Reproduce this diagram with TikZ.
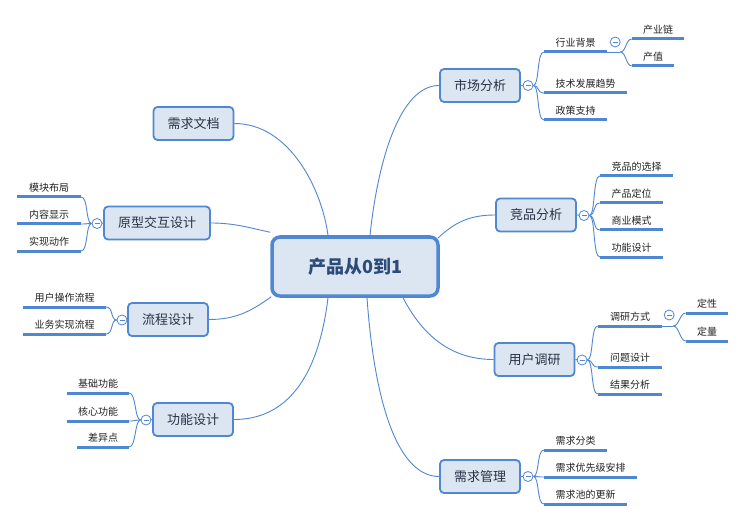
\documentclass[tikz,border=0pt]{standalone}
\usepackage{fontspec}
\setmainfont{Noto Sans CJK SC}
\usetikzlibrary{backgrounds,calc}
\definecolor{mblue}{RGB}{80,135,210}
\definecolor{mfill}{RGB}{220,230,242}
\definecolor{roottext}{RGB}{45,75,120}
\definecolor{ntext}{RGB}{40,50,70}
\definecolor{ltext}{RGB}{35,35,35}
\begin{document}
\begin{tikzpicture}[x=1pt,y=-1pt,
 rootbox/.style={draw=mblue,line width=3.5pt,fill=mfill,rounded corners=8pt,minimum width=166pt,minimum height=59pt,inner sep=0pt,font=\fontsize{18}{20}\selectfont\bfseries,text=roottext},
 branchbox/.style={draw=mblue,line width=1.8pt,fill=mfill,rounded corners=4pt,minimum width=80pt,minimum height=33pt,inner sep=0pt,font=\fontsize{13}{15}\selectfont,text=ntext},
 leaf/.style={anchor=south,inner xsep=0pt,inner ysep=4.5pt,font=\fontsize{10}{12}\selectfont,text=ltext},
 uline/.style={draw=mblue,line width=3pt},
 conn/.style={draw=mblue,line width=0.9pt},
 fold/.style={circle,draw=mblue,fill=white,line width=0.8pt,minimum size=10pt,inner sep=0pt,
   path picture={\draw[mblue,line width=0.8pt] ([xshift=-2.5pt]path picture bounding box.center)--([xshift=2.5pt]path picture bounding box.center);}}
]
\useasboundingbox (0,0) rectangle (746,521);
% root and branches
\node[rootbox] (root) at (355,266.5) {产品从0到1};
\node[branchbox] (mkt) at (480,85.5) {市场分析};
\node[branchbox] (jp) at (536,215) {竞品分析};
\node[branchbox] (yh) at (534.5,359.5) {用户调研};
\node[branchbox] (xq) at (480,476.5) {需求管理};
\node[branchbox] (doc) at (193.5,123.5) {需求文档};
\node[branchbox, minimum width=106pt] (yx) at (157,223) {原型交互设计};
\node[branchbox] (lc) at (168,319.5) {流程设计};
\node[branchbox] (gn) at (193,419.5) {功能设计};
% leaves right
\node[leaf,minimum width=63pt] (m1) at (575.5,52) {行业背景};
\node[leaf,minimum width=83pt] (m2) at (585.5,93) {技术发展趋势};
\node[leaf,minimum width=63pt] (m3) at (575.5,120) {政策支持};
\node[leaf,minimum width=52pt] (h1) at (658,39) {产业链};
\node[leaf,minimum width=42pt] (h2) at (653,66) {产值};
\node[leaf,minimum width=73pt] (j1) at (636.5,176) {竞品的选择};
\node[leaf,minimum width=63pt] (j2) at (631.5,203) {产品定位};
\node[leaf,minimum width=63pt] (j3) at (631.5,230) {商业模式};
\node[leaf,minimum width=63pt] (j4) at (631.5,257) {功能设计};
\node[leaf,minimum width=64pt] (y1) at (630,326) {调研方式};
\node[leaf,minimum width=64pt] (y2) at (630,367) {问题设计};
\node[leaf,minimum width=64pt] (y3) at (630,394) {结果分析};
\node[leaf,minimum width=42pt] (d1) at (707,313) {定性};
\node[leaf,minimum width=42pt] (d2) at (707,341) {定量};
\node[leaf,minimum width=63pt] (x1) at (575.5,450) {需求分类};
\node[leaf,minimum width=93pt] (x2) at (590.5,477) {需求优先级安排};
\node[leaf,minimum width=83pt] (x3) at (585.5,504) {需求池的更新};
% leaves left
\node[leaf,minimum width=64pt] (p1) at (49,197) {模块布局};
\node[leaf,minimum width=64pt] (p2) at (49,224) {内容显示};
\node[leaf,minimum width=64pt] (p3) at (49,251) {实现动作};
\node[leaf,minimum width=83pt] (l1) at (64.5,307) {用户操作流程};
\node[leaf,minimum width=83pt] (l2) at (64.5,334) {业务实现流程};
\node[leaf,minimum width=62pt] (g1) at (98,393) {基础功能};
\node[leaf,minimum width=62pt] (g2) at (98,421) {核心功能};
\node[leaf,minimum width=52pt] (g3) at (103,447) {差异点};
% junctions
\coordinate (jh) at ($(m1.south east)+(13,0)$);
\coordinate (jd) at ($(y1.south east)+(11,0)$);
\begin{scope}[on background layer]
\fill[white] (0,0) rectangle (746,521);
% main connectors
\draw[conn] ([xshift=-27pt]root.north) .. controls (322,190) and (290,123.5) .. (doc.east);
\draw[conn] ([xshift=15pt]root.north) .. controls (378,160) and (400,85.5) .. (mkt.west);
\draw[conn] ([xshift=-2pt,yshift=-3pt]root.north east) .. controls (455,222) and (470,215) .. (jp.west);
\draw[conn] ([xshift=48pt]root.south) .. controls (425,340) and (455,359.5) .. (yh.west);
\draw[conn] ([xshift=12pt]root.south) .. controls (375,410) and (400,476.5) .. (xq.west);
\draw[conn] ([xshift=-27pt]root.south) .. controls (318,380) and (285,419.5) .. (gn.east);
\draw[conn] ([xshift=1pt,yshift=1pt]root.south west) .. controls (250,312) and (235,319.5) .. (lc.east);
\draw[conn] ([yshift=3pt]root.north west) .. controls (250,228) and (235,223) .. (yx.east);
% underlines
\foreach \l in {m1,m2,m3,h1,h2,j1,j2,j3,j4,y1,y2,y3,d1,d2,x1,x2,x3,p1,p2,p3,l1,l2,g1,g2,g3}
  \draw[uline] (\l.south west) -- (\l.south east);
% branch to fold buttons
\draw[conn] (mkt.east) -- (528,85.5);
\draw[conn] (jp.east) -- (584,215.5);
\draw[conn] (yh.east) -- (582,360);
\draw[conn] (xq.east) -- (528,476.5);
\draw[conn] (yx.west) -- (97,223.5);
\draw[conn] (lc.west) -- (122,320);
\draw[conn] (gn.west) -- (146,420);
\end{scope}
% fold buttons
\node[fold] (cm) at (528,85.5) {};
\node[fold] (cj) at (584,215.5) {};
\node[fold] (cy) at (582,360) {};
\node[fold] (cx) at (528,476.5) {};
\node[fold] (cyx) at (97,223.5) {};
\node[fold] (clc) at (122,320) {};
\node[fold] (cgn) at (146,420) {};
\begin{scope}[on background layer]
\foreach \c/\l in {cm/m1,cm/m2,cm/m3,cj/j1,cj/j2,cj/j3,cj/j4,cy/y1,cy/y2,cy/y3,cx/x1,cx/x2,cx/x3}
  \draw[conn] (\c.east) .. controls +(6,0) and +(-7,0) .. (\l.south west);
\foreach \c/\l in {cyx/p1,cyx/p2,cyx/p3,clc/l1,clc/l2,cgn/g1,cgn/g2,cgn/g3}
  \draw[conn] (\c.west) .. controls +(-6,0) and +(7,0) .. (\l.south east);
\draw[conn] (m1.south east) -- (jh);
\draw[conn] (y1.south east) -- (jd);
\foreach \l in {h1,h2} \draw[conn] (jh) .. controls +(6,0) and +(-6,0) .. (\l.south west);
\foreach \l in {d1,d2} \draw[conn] (jd) .. controls +(6,0) and +(-6,0) .. (\l.south west);
\end{scope}
\node[fold] (ch) at ($(m1.south east)+(8,-10)$) {};
\node[fold] (cd) at ($(y1.south east)+(7,-11)$) {};
\end{tikzpicture}
\end{document}
